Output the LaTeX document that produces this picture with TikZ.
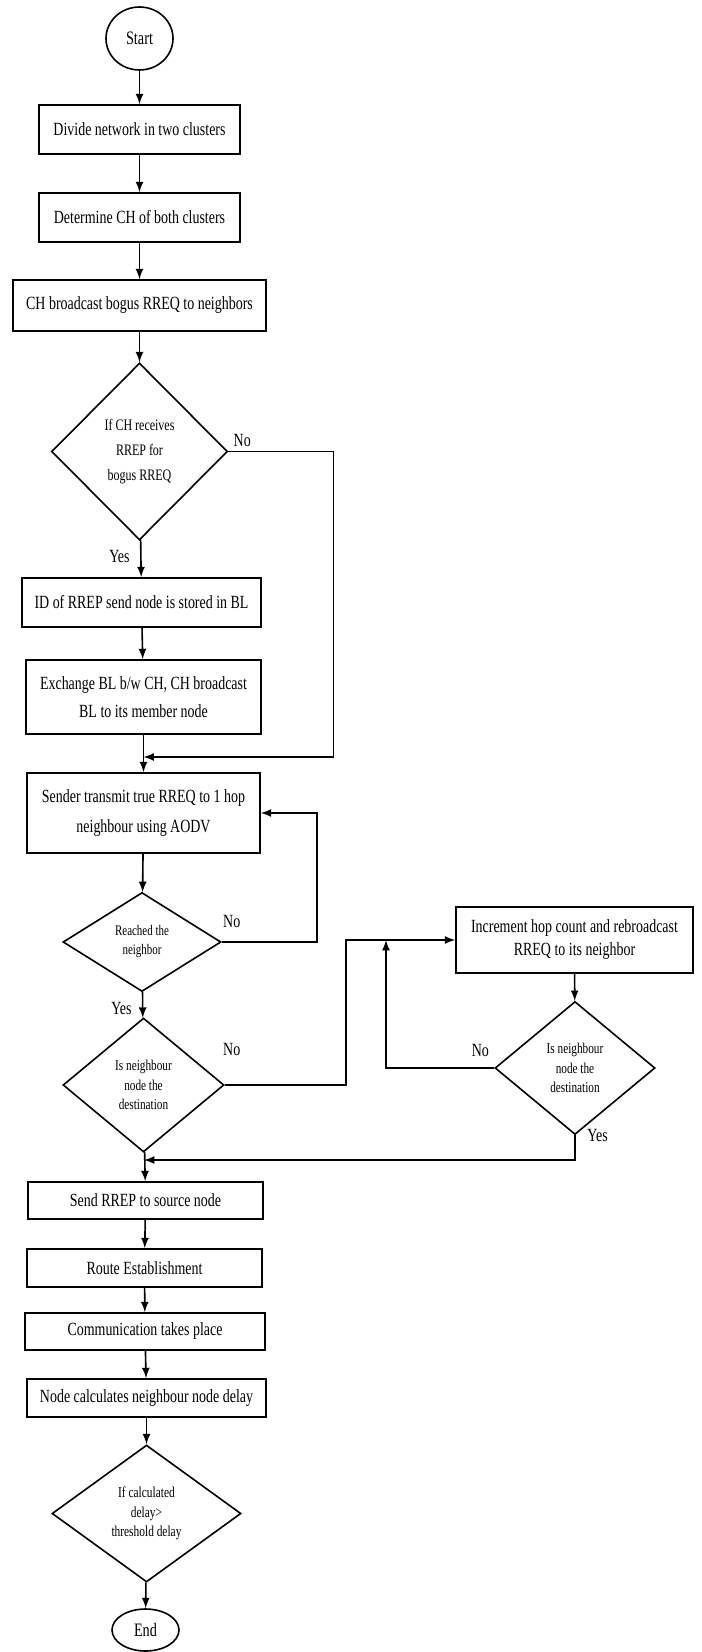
\documentclass[tikz,border=0pt]{standalone}
\usepackage{fontspec}
\setmainfont{Liberation Serif}[FakeStretch=0.75]
\usetikzlibrary{shapes.geometric,positioning}

\tikzset{
	box/.style={rectangle, draw, thick, align=center, inner sep=0pt, font=\fontsize{9.3}{14}\selectfont},
	dec/.style={diamond, draw, thick, align=center, inner sep=0pt, font=\fontsize{7.5}{9.75}\selectfont},
	term/.style={ellipse, draw, thick, inner sep=0pt, font=\fontsize{9.5}{11}\selectfont},
	arr/.style={-latex, thick},
	lbl/.style={inner sep=0pt, font=\fontsize{9.3}{11}\selectfont},
}

\begin{document}
\begin{tikzpicture}[x=0.5pt, y=-0.5pt]
	\useasboundingbox (0,0) rectangle (701,1652);

	% main column
	\node[term, minimum width=33.5pt, minimum height=31.5pt] (start) at (139.5,38.5) {Start};
	\node[box, minimum width=100.5pt, minimum height=24.5pt] (b1) at (139.5,129.5) {Divide network in two clusters};
	\node[box, minimum width=100.5pt, minimum height=24.5pt] (b2) at (139.5,217.5) {Determine CH of both clusters};
	\node[box, minimum width=126.5pt, minimum height=25.5pt] (b3) at (139.5,305.5) {CH broadcast bogus RREQ to neighbors};
	\node[dec, minimum width=88pt, minimum height=88.5pt, font=\fontsize{8}{12.5}\selectfont] (d1) at (139.5,451.5) {If CH receives\\RREP for\\bogus RREQ};
	\node[box, minimum width=119.5pt, minimum height=24.5pt] (b4) at (141.5,602.5) {ID of RREP send node is stored in BL};
	\node[box, minimum width=117.5pt, minimum height=37pt] (b5) at (143.5,697) {Exchange BL b/w CH, CH broadcast\\BL to its member node};
	\node[box, minimum width=116.5pt, minimum height=40pt, font=\fontsize{9.3}{15}\selectfont] (b6) at (143.5,813) {Sender transmit true RREQ to 1 hop\\neighbour using AODV};
	\node[dec, minimum width=79pt, minimum height=49.5pt, font=\fontsize{7.3}{9.5}\selectfont] (d2) at (142,942) {Reached the\\neighbor};
	\node[dec, minimum width=80.5pt, minimum height=67pt] (d3) at (143.5,1085) {Is neighbour\\node the\\destination};
	\node[box, minimum width=117.5pt, minimum height=18.5pt] (b8) at (145.5,1200.5) {Send RREP to source node};
	\node[box, minimum width=117.5pt, minimum height=19pt] (b9) at (144.5,1268) {Route Establishment};
	\node[box, minimum width=120pt, minimum height=18.5pt] (b10) at (145,1331.5) {Communication takes place};
	\node[box, minimum width=119.5pt, minimum height=19pt] (b11) at (146.5,1398) {Node calculates neighbour node delay};
	\node[dec, minimum width=94.5pt, minimum height=68.5pt, font=\fontsize{7.6}{9.75}\selectfont] (d5) at (146.5,1513.5) {If calculated\\delay>\\threshold delay};
	\node[term, minimum width=33.5pt, minimum height=21pt] (end) at (145.5,1630) {End};

	% right branch
	\node[box, minimum width=118.5pt, minimum height=33pt, font=\fontsize{9.3}{11.5}\selectfont] (b7) at (574.5,940) {Increment hop count and rebroadcast\\RREQ to its neighbor};
	\node[dec, minimum width=80pt, minimum height=66.5pt] (d4) at (575,1068) {Is neighbour\\node the\\destination};

	% junctions on the main line
	\coordinate (j1) at (143.5,757);
	\coordinate (j2) at (386,940);
	\coordinate (j3) at (144,1160);

	% labels
	\node[lbl, above right=2pt and 2.5pt of d1.east] {No};
	\node[lbl, below left=4.4pt and 4.75pt of d1.south] {Yes};
	\node[lbl, above right=7pt and 0.5pt of d2.east] {No};
	\node[lbl, below left=4.75pt and 5pt of d2.south] {Yes};
	\node[lbl, above right=14.5pt and -1pt of d3.east] {No};
	\node[lbl, above left=5.5pt and 2.5pt of d4.west] {No};
	\node[lbl, right=6pt of d4.south] {Yes};

	\draw[arr] (start) -- (b1);
	\draw[arr] (b1) -- (b2);
	\draw[arr] (b2) -- (b3);
	\draw[arr] (b3) -- (d1);
	\draw[arr] (d1) -- (b4);
	\draw[arr] (b4) -- (b5);
	\draw[arr] (b5) -- (b6);
	\draw[arr] (d1.east) -- ++(105,0) |- (j1);
	\draw[arr] (b6) -- (d2);
	\draw[arr] (d2.east) -- ++(95,0) |- (b6.east);
	\draw[arr] (d2) -- (d3);
	\draw[arr] (d3.east) -- ++(121,0) |- (b7.west);
	\draw[arr] (b7) -- (d4);
	\draw[arr] (d4.west) -| (j2);
	\draw[arr] (d4.south) |- (j3);
	\draw[arr] (d3) -- (b8);
	\draw[arr] (b8) -- (b9);
	\draw[arr] (b9) -- (b10);
	\draw[arr] (b10) -- (b11);
	\draw[arr] (b11) -- (d5);
	\draw[arr] (d5) -- (end);
\end{tikzpicture}
\end{document}
